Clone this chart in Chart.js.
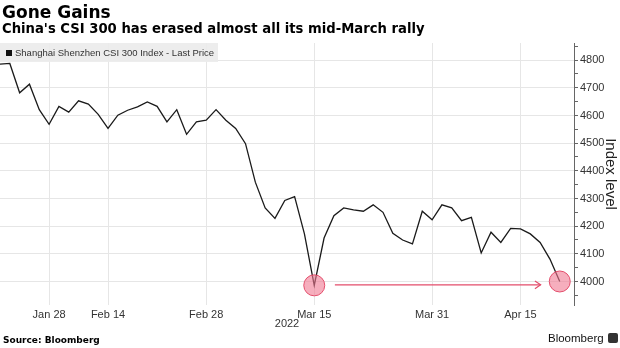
<!DOCTYPE html>
<html>
<head>
<meta charset="utf-8">
<script src="https://cdn.jsdelivr.net/npm/chart.js@4"></script>
<style>
  html, body { margin: 0; padding: 0; background: #fff; }
  #wrap { position: relative; width: 620px; height: 348px; overflow: hidden; }
  #chart { position: absolute; left: 0; top: 0; }
  .title { position: absolute; left: 2px; top: 2px; font: bold 17px 'DejaVu Sans', sans-serif; color: #000; }
  .subtitle { position: absolute; left: 2px; top: 21px; font: bold 13.2px 'DejaVu Sans', sans-serif; color: #000; }
  .legend { position: absolute; left: 0; top: 43px; width: 218px; height: 19px; background: rgba(236,236,236,0.92);
            font: 9.5px 'Liberation Sans', Arial, sans-serif; color: #333; line-height: 19px; white-space: nowrap; }
  .legend i { display: inline-block; width: 6px; height: 6px; background: #111; margin: 0 3px 0 6px; vertical-align: 0; }
  .source { position: absolute; left: 3px; top: 335px; font: bold 9px 'DejaVu Sans', sans-serif; color: #000; }
  .brand { position: absolute; left: 548px; top: 332px; font: 11.5px 'Liberation Sans', Arial, sans-serif; color: #111; }
  .brand b { display: inline-block; width: 10px; height: 10px; background: #333; border-radius: 2px; margin-left: 4px; vertical-align: -1px; }
</style>
</head>
<body>
<div id="wrap">
  <canvas id="chart" width="620" height="348"></canvas>
  <div class="title">Gone Gains</div>
  <div class="subtitle">China's CSI 300 has erased almost all its mid-March rally</div>
  <div class="legend"><i></i>Shanghai Shenzhen CSI 300 Index - Last Price</div>
  <div class="source">Source: Bloomberg</div>
  <div class="brand">Bloomberg<b></b></div>
</div>
<script>
Chart.defaults.font.family = "'Liberation Sans', Arial, sans-serif";
Chart.defaults.font.size   = 11;
Chart.defaults.color       = '#333';

// trading days (Shanghai/Shenzhen), Jan 21 – Apr 21 2022
const tradingDays = [
  'Jan 21','Jan 24','Jan 25','Jan 26','Jan 27','Jan 28',
  'Feb 7','Feb 8','Feb 9','Feb 10','Feb 11','Feb 14','Feb 15','Feb 16','Feb 17','Feb 18',
  'Feb 21','Feb 22','Feb 23','Feb 24','Feb 25','Feb 28',
  'Mar 1','Mar 2','Mar 3','Mar 4','Mar 7','Mar 8','Mar 9','Mar 10','Mar 11','Mar 14','Mar 15',
  'Mar 16','Mar 17','Mar 18','Mar 21','Mar 22','Mar 23','Mar 24','Mar 25','Mar 28','Mar 29','Mar 30','Mar 31',
  'Apr 1','Apr 6','Apr 7','Apr 8','Apr 11','Apr 12','Apr 13','Apr 14','Apr 15','Apr 18','Apr 19','Apr 20','Apr 21'
];
const closes = [
  4786, 4788, 4682, 4713, 4621, 4568,
  4633, 4612, 4653, 4641, 4604, 4553, 4601, 4619, 4631, 4649,
  4633, 4577, 4621, 4532, 4577, 4583,
  4621, 4583, 4553, 4498, 4359, 4266, 4228, 4293, 4307, 4172, 3986,
  4157, 4238, 4266, 4259, 4254, 4277, 4250, 4174, 4150, 4136, 4254, 4223,
  4277, 4266, 4220, 4232, 4103, 4178, 4141, 4192, 4190, 4172, 4141, 4081, 4000
];

const xTickDays = ['Jan 28', 'Feb 14', 'Feb 28', 'Mar 15', 'Mar 31', 'Apr 15'];
const yTicks = [3950, 4000, 4050, 4100, 4150, 4200, 4250, 4300, 4350, 4400, 4450,
                4500, 4550, 4600, 4650, 4700, 4750, 4800, 4850];
const highlightDays = ['Mar 15', 'Apr 21'];

// annotation arrow: Mar 15 low carried across to the latest close
const arrowX     = [34.1, 55.05];
const arrowLevel = 3988;
const arrowHeadX = [54.47, 55.05, 54.47];
const arrowHeadY = [4002, 3988, 3974];

const RED = '#e34d6b';

const lineData = closes.map((v, i) => ({ x: i, y: v }));
const circles  = highlightDays.map(d => {
  const i = tradingDays.indexOf(d);
  return { x: i, y: closes[i] };
});
const arrowLine = arrowX.map(x => ({ x, y: arrowLevel }));
const arrowHead = arrowHeadX.map((x, i) => ({ x, y: arrowHeadY[i] }));

new Chart(document.getElementById('chart'), {
  type: 'line',
  data: {
    datasets: [
      { data: arrowLine, borderColor: RED, borderWidth: 1.2, pointRadius: 0, order: 3 },
      { data: arrowHead, borderColor: RED, borderWidth: 1.2, pointRadius: 0, order: 3 },
      { data: lineData, borderColor: '#1a1a1a', borderWidth: 1.3, pointRadius: 0, tension: 0, order: 2 },
      {
        data: circles, showLine: false, order: 1,
        pointRadius: 10.5, pointBackgroundColor: 'rgba(240,120,145,0.6)',
        pointBorderColor: RED, pointBorderWidth: 1
      }
    ]
  },
  options: {
    responsive: false,
    animation: false,
    layout: { autoPadding: false, padding: { top: 43, bottom: 13, left: 0, right: 0 } },
    plugins: { legend: { display: false }, tooltip: { enabled: false } },
    scales: {
      x: {
        type: 'linear',
        min: 0,
        max: 58.45,
        afterFit: s => { s.height = 30; s.paddingLeft = 0; s.paddingRight = 0; },
        afterBuildTicks: s => { s.ticks = xTickDays.map(d => ({ value: tradingDays.indexOf(d) })); },
        grid: { color: '#e6e6e6', drawTicks: false },
        border: { display: false },
        ticks: {
          padding: 3, maxRotation: 0, autoSkip: false,
          callback: (v, i) => xTickDays[i]
        },
        title: { display: true, text: '2022', padding: { top: 0, bottom: 4 }, font: { size: 11 } }
      },
      y: {
        position: 'right',
        min: 3915,
        max: 4862,
        afterFit: s => { s.width = 46; s.paddingTop = 0; s.paddingBottom = 0; },
        afterBuildTicks: s => { s.ticks = yTicks.map(v => ({ value: v })); },
        grid: {
          color: c => (c.tick && c.tick.value % 100 === 0) ? '#e6e6e6' : 'rgba(0,0,0,0)',
          tickColor: '#666',
          tickLength: 4
        },
        border: { display: true, color: '#666' },
        ticks: { padding: 2, autoSkip: false, callback: v => v % 100 === 0 ? String(v) : '' },
        title: { display: true, text: 'Index level', padding: { top: 1, bottom: 0 }, font: { size: 15 }, color: '#222' }
      }
    }
  }
});
</script>
</body>
</html>
